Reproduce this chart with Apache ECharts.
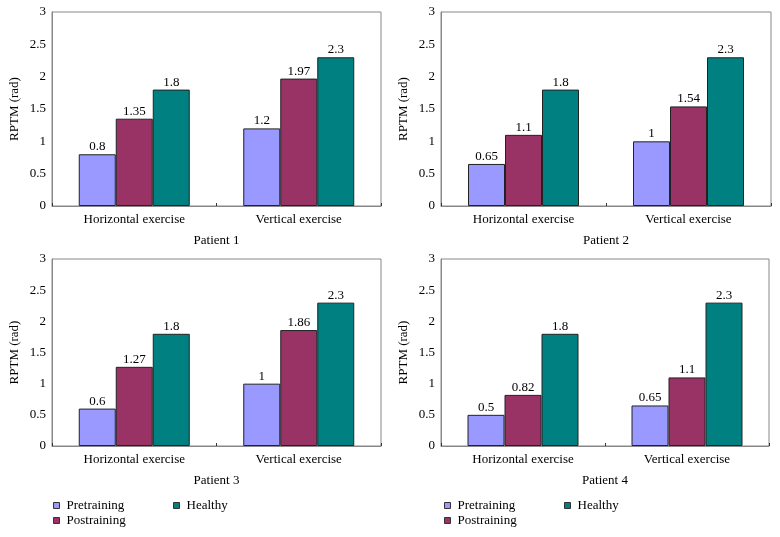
<!DOCTYPE html>
<html>
<head>
<meta charset="utf-8">
<script src="https://cdn.jsdelivr.net/npm/echarts@6/dist/echarts.min.js"></script>
<style>html,body{margin:0;padding:0;background:#fff}#c{width:780px;height:537px}</style>
</head>
<body>
<div id="c"></div>
<script>
var categories = ['Horizontal exercise', 'Vertical exercise'];
var patients = ['Patient 1', 'Patient 2', 'Patient 3', 'Patient 4'];
var seriesNames = ['Pretraining', 'Postraining', 'Healthy'];
var pretraining = [[0.8, 1.2], [0.65, 1], [0.6, 1], [0.5, 0.65]];
var postraining = [[1.35, 1.97], [1.1, 1.54], [1.27, 1.86], [0.82, 1.1]];
var healthy = [[1.8, 2.3], [1.8, 2.3], [1.8, 2.3], [1.8, 2.3]];
var yTicks = { min: 0, max: 3, interval: 0.5 };

var FONT = 'Liberation Serif';
var colors = ['#9999ff', '#993366', '#008080'];
var grids = [
  { left: 52, top: 12, width: 329, height: 194 },
  { left: 441, top: 12, width: 330, height: 194 },
  { left: 52, top: 259, width: 329, height: 187 },
  { left: 441, top: 259, width: 328, height: 187 }
];
var values = [pretraining, postraining, healthy];

var option = {
  animation: false,
  textStyle: { fontFamily: FONT },
  grid: grids.map(function (g) {
    return Object.assign({ show: true, borderColor: '#888', borderWidth: 1, backgroundColor: 'transparent' }, g);
  }),
  xAxis: grids.map(function (g, i) {
    return {
      type: 'category', gridIndex: i, data: categories,
      name: patients[i], nameLocation: 'middle', nameGap: 28,
      nameTextStyle: { fontFamily: FONT, fontSize: 13, color: '#000' },
      axisLine: { lineStyle: { color: '#888' } },
      axisTick: { show: true, inside: true, length: 3, lineStyle: { color: '#333' } },
      axisLabel: { fontFamily: FONT, fontSize: 13, color: '#000', margin: 7 }
    };
  }),
  yAxis: grids.map(function (g, i) {
    return {
      type: 'value', gridIndex: i, min: yTicks.min, max: yTicks.max, interval: yTicks.interval,
      name: 'RPTM (rad)', nameLocation: 'middle', nameGap: 31,
      nameTextStyle: { fontFamily: FONT, fontSize: 13, color: '#000' },
      axisLine: { show: true, lineStyle: { color: '#888' } },
      axisTick: { show: false },
      splitLine: { show: false },
      axisLabel: { fontFamily: FONT, fontSize: 13, color: '#000', margin: 6 }
    };
  }),
  legend: [],
  series: []
};

[[53, 499], [444, 499]].forEach(function (pos) {
  var common = {
    orient: 'vertical', top: pos[1], padding: 0, icon: 'rect', itemWidth: 6, itemHeight: 6, itemGap: 2,
    itemStyle: { borderColor: '#333', borderWidth: 1 },
    textStyle: { fontFamily: FONT, fontSize: 13, color: '#000', lineHeight: 13, padding: [0, 0, 0, 2] }
  };
  option.legend.push(Object.assign({ left: pos[0], data: ['Pretraining', 'Postraining'] }, common));
  option.legend.push(Object.assign({ left: pos[0] + 120, data: ['Healthy'] }, common));
});

for (var p = 0; p < 4; p++) {
  for (var s = 0; s < 3; s++) {
    option.series.push({
      type: 'bar', name: seriesNames[s], xAxisIndex: p, yAxisIndex: p,
      data: values[s][p], barWidth: 37, barGap: '0%',
      itemStyle: { color: colors[s], borderColor: '#222', borderWidth: 1 },
      label: { show: true, position: 'top', distance: 1, fontFamily: FONT, fontSize: 13, color: '#000' }
    });
  }
}

var chart = echarts.init(document.getElementById('c'), null, { renderer: 'canvas' });
chart.setOption(option);
</script>
</body>
</html>
